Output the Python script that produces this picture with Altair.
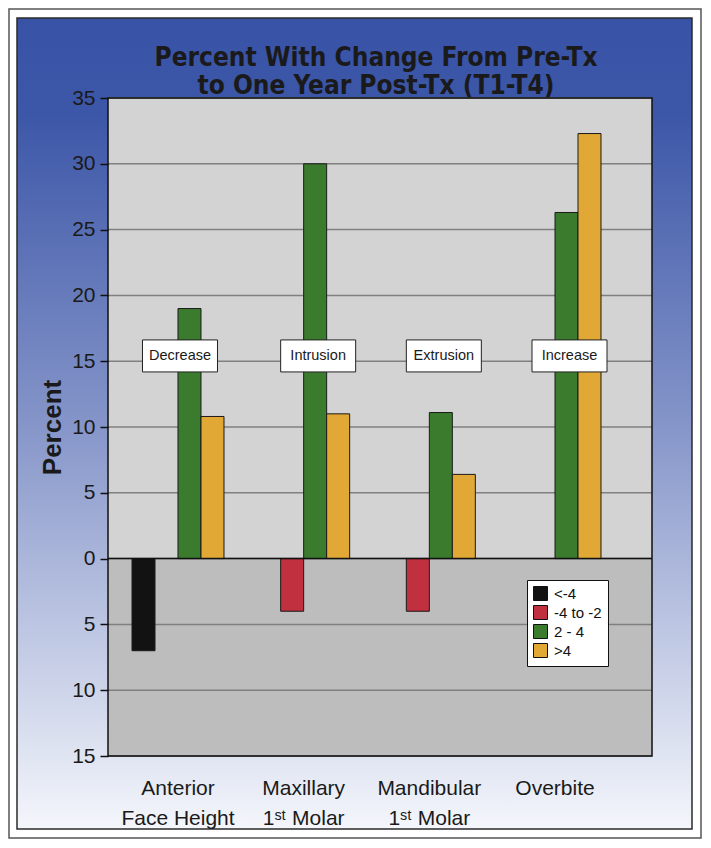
import json
import altair as alt
import pandas as pd

# ---------------- data ----------------
categories = ["Anterior Face Height", "Maxillary 1st Molar", "Mandibular 1st Molar", "Overbite"]
category_lines = [["Anterior", "Face Height"], ["Maxillary", "1ˢᵗ Molar"],
                  ["Mandibular", "1ˢᵗ Molar"], ["Overbite"]]
series = ["<-4", "-4 to -2", "2 - 4", ">4"]
colors = ["#121212", "#c1303e", "#3b7b2d", "#e1a835"]
v_lt_m4 = [-7.0, 0, 0, 0]
v_m4_m2 = [0, -4.0, -4.0, 0]
v_2_4 = [19.0, 30.0, 11.1, 26.3]
v_gt4 = [10.8, 11.0, 6.4, 32.3]
box_labels = ["Decrease", "Intrusion", "Extrusion", "Increase"]
box_level = 15.4
y_ticks = [-15, -10, -5, 0, 5, 10, 15, 20, 25, 30, 35]
title_lines = ["Percent With Change From Pre-Tx", "to One Year Post-Tx (T1-T4)"]

# ---------------- tables ----------------
rows = []
for i, c in enumerate(categories):
    for s, vals in zip(series, [v_lt_m4, v_m4_m2, v_2_4, v_gt4]):
        if vals[i] != 0:
            rows.append({"category": c, "series": s, "value": vals[i]})
bars_df = pd.DataFrame(rows)
box_df = pd.DataFrame({"category": categories, "label": box_labels,
                       "level": [box_level] * len(categories)})
grid_df = pd.DataFrame({"v": y_ticks})
title_df = pd.DataFrame({"t": ["\n".join(title_lines)]})
one = pd.DataFrame({"k": [0]})

W, H = 544, 658
FONT = "Liberation Sans, Arial, DejaVu Sans"
TITLE_FONT = "DejaVu Sans Condensed, Liberation Sans"

x_scale = alt.Scale(domain=categories, range=[0, 517], paddingInner=0.268, paddingOuter=0.191)
y_scale = alt.Scale(domain=[-15, 35], nice=False, zero=False)

label_expr = " : ".join(
    f"datum.label == {json.dumps(c)} ? {json.dumps(l, ensure_ascii=False)}"
    for c, l in zip(categories, category_lines)
) + " : datum.label"

x_axis = alt.Axis(title=None, labelExpr=label_expr, labelFontSize=21, labelFont=FONT,
                  labelColor="#1a1a1a", labelLineHeight=30, ticks=False, domain=False,
                  grid=False, labelPadding=21, labelAngle=0, zindex=1)
y_axis = alt.Axis(values=y_ticks, labelExpr="abs(datum.value)", title="Percent",
                  titleFontSize=26, titleFont=FONT, titleFontWeight="bold",
                  titleColor="#1a1a1a", labelFontSize=21, labelFont=FONT,
                  labelColor="#1a1a1a", tickSize=8, tickColor="#111111", tickWidth=1.5,
                  domain=False, grid=False, labelPadding=5, titlePadding=6, zindex=1)

gradient = alt.LinearGradient(
    gradient="linear",
    stops=[alt.GradientStop(color="#3852a6", offset=0),
           alt.GradientStop(color="#3d57a8", offset=0.12),
           alt.GradientStop(color="#8595c9", offset=0.5),
           alt.GradientStop(color="#f4f6fb", offset=1)],
    x1=0, x2=0, y1=0, y2=1)

frame = alt.Chart(one).mark_rect(fillOpacity=0, stroke="#555555", strokeWidth=1.5).encode(
    x=alt.value(-99), x2=alt.value(593), y=alt.value(-89), y2=alt.value(740))
panel = alt.Chart(one).mark_rect(fill=gradient, stroke="#2b2b2b", strokeWidth=1.5).encode(
    x=alt.value(-91), x2=alt.value(584), y=alt.value(-80), y2=alt.value(731))
title = alt.Chart(title_df).mark_text(
    font=TITLE_FONT, fontSize=26, fontWeight="bold", color="#1a1a1a", align="center",
    baseline="alphabetic", lineBreak="\n", lineHeight=28).encode(
    text="t:N", x=alt.value(268), y=alt.value(-32))

upper = alt.Chart(one).mark_rect(color="#d3d3d3").encode(
    x=alt.value(0), x2=alt.value(W),
    y=alt.Y(datum=35, type="quantitative", scale=y_scale, axis=y_axis),
    y2=alt.Y2(datum=0))
lower = alt.Chart(one).mark_rect(color="#bdbdbd").encode(
    x=alt.value(0), x2=alt.value(W),
    y=alt.Y(datum=0, type="quantitative", scale=y_scale),
    y2=alt.Y2(datum=-15))
grid = alt.Chart(grid_df).mark_rule(color="#808080", strokeWidth=1.5).encode(
    y=alt.Y("v:Q", scale=y_scale), x=alt.value(0), x2=alt.value(W))

bars = alt.Chart(bars_df).mark_bar(stroke="#1a1a1a", strokeWidth=1).encode(
    x=alt.X("category:N", scale=x_scale, sort=categories, axis=x_axis),
    xOffset=alt.XOffset("series:N", sort=series,
                        scale=alt.Scale(domain=series, paddingInner=0, paddingOuter=0)),
    y=alt.Y("value:Q", scale=y_scale),
    y2=alt.Y2(datum=0),
    color=alt.Color("series:N", sort=series,
                    scale=alt.Scale(domain=series, range=colors),
                    legend=alt.Legend(title=None, orient="none", legendX=419, legendY=482,
                                      symbolType="square", symbolSize=196,
                                      symbolStrokeColor="#111111", symbolStrokeWidth=1,
                                      symbolOpacity=1, labelFontSize=15, labelFont=FONT,
                                      labelColor="#111111", fillColor="white",
                                      strokeColor="#111111", padding=6, rowPadding=0,
                                      labelOffset=6, zindex=1)))

zero = alt.Chart(one).mark_rule(color="#111111", strokeWidth=1.5).encode(
    y=alt.Y(datum=0, type="quantitative", scale=y_scale), x=alt.value(0), x2=alt.value(W))
border = alt.Chart(one).mark_rect(fillOpacity=0, stroke="#111111", strokeWidth=1.5).encode(
    x=alt.value(0), x2=alt.value(W), y=alt.value(0), y2=alt.value(H))

BOX = "M-1,-0.4267H1V0.4267H-1Z"


def box_layer(filter_expr, shift):
    base = alt.Chart(box_df).transform_filter(filter_expr)
    pos = dict(x=alt.X("category:N", scale=x_scale, sort=categories),
               y=alt.Y("level:Q", scale=y_scale))
    b = base.mark_point(shape=BOX, size=5625, filled=True, fill="white", opacity=1,
                        stroke="#222222", strokeWidth=1, xOffset=shift).encode(**pos)
    t = base.mark_text(fontSize=14.5, font=FONT, color="#1a1a1a", dx=shift).encode(
        text="label:N", **pos)
    return b + t


boxes_a = box_layer("datum.label == 'Decrease'", 2)
boxes_b = box_layer("datum.label != 'Decrease'", 14.5)

chart = alt.layer(frame, panel, title, upper, lower, grid, bars, zero, border,
                  boxes_a, boxes_b).properties(
    width=W, height=H,
    padding={"left": 100, "top": 90, "right": 51, "bottom": 84},
    autosize=alt.AutoSizeParams(type="none"),
).configure_view(strokeWidth=0).configure(background="white")

chart.save("out.html", embed_options={"renderer": "svg", "actions": False})
